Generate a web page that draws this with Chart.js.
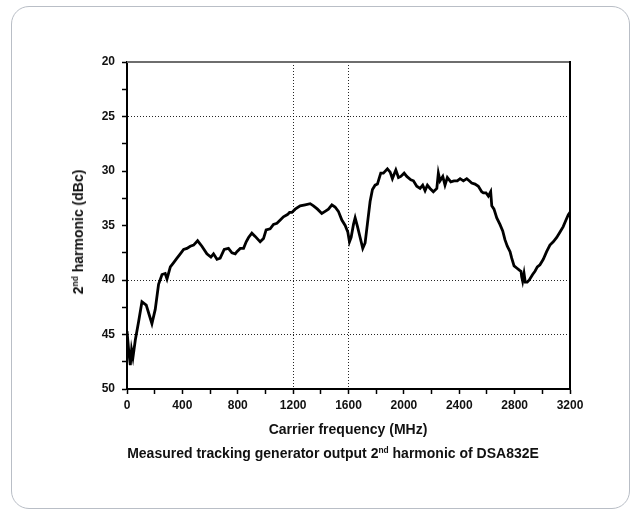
<!DOCTYPE html>
<html>
<head>
<meta charset="utf-8">
<script src="https://cdn.jsdelivr.net/npm/chart.js@4.4.1/dist/chart.umd.min.js"></script>
<style>
  html, body { margin: 0; padding: 0; background: #fff; }
  #wrap { position: relative; width: 632px; height: 510px; overflow: hidden; font-family: "Liberation Sans", Arial, sans-serif; color: #111; }
  #frame { position: absolute; left: 11px; top: 6px; width: 617px; height: 501px; border: 1px solid #b9bec6; border-radius: 18px; }
  #harmChart { position: absolute; left: 0; top: 0; }
  .lbl { position: absolute; font-weight: bold; white-space: nowrap; }
  .lbl sup { font-size: 0.6em; vertical-align: 0; position: relative; top: -0.6em; }
  #yTitle { left: 78px; top: 232px; font-size: 14px; transform: translate(-50%, -50%) rotate(-90deg); }
  #xTitle { left: 348px; top: 429px; font-size: 14px; transform: translate(-50%, -50%); }
  #caption { left: 333px; top: 453px; font-size: 14px; transform: translate(-50%, -50%); }
</style>
</head>
<body>
<div id="wrap">
  <div id="frame"></div>
  <canvas id="harmChart" width="632" height="510"></canvas>
  <div class="lbl" id="yTitle">2<sup>nd</sup> harmonic (dBc)</div>
  <div class="lbl" id="xTitle">Carrier frequency (MHz)</div>
  <div class="lbl" id="caption">Measured tracking generator output 2<sup>nd</sup> harmonic of DSA832E</div>
</div>
<script>
// Carrier frequency sweep (MHz) and measured 2nd harmonic level (dBc)
const freqMHz = [
  0, 14, 24, 33, 43, 60, 84, 108, 139, 163, 180, 204, 228, 253, 276, 289, 313, 337, 361, 385,
  409, 433, 457, 481, 510, 541, 577, 606, 625, 650, 673, 702, 733, 758, 782, 794, 818, 842, 861, 878,
  902, 926, 962, 986, 1005, 1034, 1058, 1083, 1107, 1130, 1159, 1174, 1191, 1215, 1251, 1287, 1323, 1347, 1376, 1407,
  1431, 1455, 1480, 1503, 1527, 1552, 1576, 1595, 1607, 1619, 1636, 1648, 1665, 1684, 1703, 1720, 1737, 1756, 1773, 1792,
  1809, 1823, 1833, 1852, 1881, 1901, 1917, 1942, 1961, 1978, 2002, 2021, 2050, 2069, 2093, 2117, 2136, 2153, 2170, 2189,
  2213, 2238, 2249, 2261, 2281, 2297, 2314, 2339, 2362, 2386, 2406, 2430, 2454, 2472, 2490, 2514, 2538, 2562, 2574, 2593,
  2610, 2627, 2635, 2651, 2671, 2694, 2714, 2730, 2747, 2767, 2779, 2796, 2815, 2834, 2846, 2851, 2858, 2868, 2877, 2891,
  2906, 2930, 2947, 2964, 2983, 3007, 3031, 3055, 3079, 3104, 3128, 3151, 3171, 3188, 3200
];
const harmonicDbc = [
  44.7, 46.7, 47.8, 46.4, 47.1, 45.5, 43.8, 42.0, 42.3, 43.3, 44.0, 42.7, 40.4, 39.5, 39.4, 39.9, 38.8, 38.4, 38.0, 37.6,
  37.2, 37.1, 36.9, 36.8, 36.4, 36.9, 37.6, 37.9, 37.6, 38.1, 38.0, 37.2, 37.1, 37.5, 37.6, 37.4, 37.1, 37.1, 36.5, 36.1,
  35.7, 36.0, 36.5, 36.2, 35.4, 35.3, 34.9, 34.8, 34.5, 34.2, 34.0, 33.8, 33.8, 33.5, 33.2, 33.1, 33.0, 33.2, 33.5, 33.9,
  33.7, 33.5, 33.1, 33.3, 33.7, 34.5, 35.0, 35.6, 36.5, 36.1, 34.9, 34.3, 35.1, 36.1, 37.1, 36.6, 34.8, 32.8, 31.7, 31.3,
  31.2, 30.6, 30.2, 30.2, 29.8, 30.1, 30.7, 29.9, 30.6, 30.5, 30.2, 30.5, 30.8, 30.9, 31.4, 31.6, 31.3, 31.8, 31.3, 31.6,
  31.9, 31.6, 30.2, 30.9, 30.5, 31.3, 30.6, 31.0, 30.9, 30.9, 30.7, 30.9, 30.7, 30.9, 31.1, 31.2, 31.4, 31.9, 32.0, 32.0,
  32.3, 31.9, 33.2, 33.5, 34.3, 34.9, 35.5, 36.3, 36.9, 37.4, 38.0, 38.7, 38.9, 39.1, 39.2, 39.7, 40.1, 39.4, 40.2, 40.2,
  40.0, 39.5, 39.2, 38.8, 38.6, 38.1, 37.4, 36.8, 36.5, 36.1, 35.6, 35.1, 34.5, 34.0, 33.8
];

// axis ranges and which values get a dotted grid line
const xRange = [0, 3200];
const yRange = [20, 50];
const xGridAt = [1200, 1600];
const yGridAt = [25, 40, 45];

const tickFont = { family: '"Liberation Sans", Arial, sans-serif', size: 12, weight: 'bold' };
const dotted = 'rgba(0,0,0,0.85)';

// top edge in grey, right edge in black
const plotFrame = {
  id: 'plotFrame',
  afterDraw(chart) {
    const { ctx, chartArea: a } = chart;
    ctx.save();
    ctx.lineWidth = 2;
    ctx.strokeStyle = '#6e6e6e';
    ctx.beginPath();
    ctx.moveTo(a.left, a.top);
    ctx.lineTo(a.right, a.top);
    ctx.stroke();
    ctx.strokeStyle = '#000';
    ctx.beginPath();
    ctx.moveTo(a.right, a.top - 1);
    ctx.lineTo(a.right, a.bottom);
    ctx.stroke();
    ctx.restore();
  }
};

const points = freqMHz.map((f, i) => ({ x: f, y: harmonicDbc[i] }));

new Chart(document.getElementById('harmChart'), {
  type: 'line',
  data: {
    datasets: [{
      data: points,
      borderColor: '#000',
      borderWidth: 2.8,
      pointRadius: 0,
      tension: 0,
      fill: false
    }]
  },
  options: {
    responsive: false,
    animation: false,
    events: [],
    layout: { padding: { top: 62, right: 62, left: 0, bottom: 0 } },
    plugins: { legend: { display: false }, tooltip: { enabled: false } },
    scales: {
      x: {
        type: 'linear',
        min: xRange[0],
        max: xRange[1],
        afterFit: s => { s.height = 121; },
        border: { display: true, color: '#000', width: 2, dash: [1, 2] },
        grid: {
          color: c => xGridAt.includes(c.tick.value) ? dotted : 'transparent',
          lineWidth: 1,
          tickColor: '#000',
          tickLength: 5,
          tickWidth: 1.5
        },
        ticks: {
          stepSize: 200,
          maxRotation: 0,
          autoSkip: false,
          padding: 4,
          color: '#111',
          font: tickFont,
          callback: v => v % 400 === 0 ? String(v) : ''
        }
      },
      y: {
        type: 'linear',
        reverse: true,
        min: yRange[0],
        max: yRange[1],
        afterFit: s => { s.width = 127; },
        border: { display: true, color: '#000', width: 2, dash: [1, 2] },
        grid: {
          color: c => yGridAt.includes(c.tick.value) ? dotted : 'transparent',
          lineWidth: 1,
          tickColor: '#000',
          tickLength: 5,
          tickWidth: 1.5
        },
        ticks: {
          stepSize: 2.5,
          autoSkip: false,
          padding: 7,
          color: '#111',
          font: tickFont,
          callback: v => v % 5 === 0 ? String(v) : ''
        }
      }
    }
  },
  plugins: [plotFrame]
});
</script>
</body>
</html>
